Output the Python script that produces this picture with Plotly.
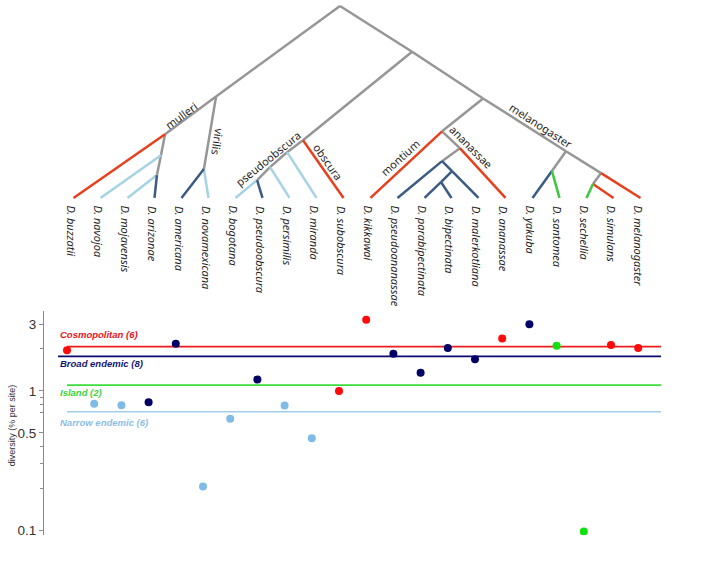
import plotly.graph_objects as go

# ---------------- data ----------------
species = ["D. buzzatii", "D. navojoa", "D. mojavensis", "D. arizonae", "D. americana",
           "D. novamexicana", "D. bogotana", "D. pseudoobscura", "D. persimilis", "D. miranda",
           "D. subobscura", "D. kikkawai", "D. pseudoananassae", "D. parabipectinata",
           "D. bipectinata", "D. malerkotliana", "D. ananassae", "D. yakuba", "D. santomea",
           "D. sechellia", "D. simulans", "D. melanogaster"]
group = ["Cosmopolitan", "Narrow endemic", "Narrow endemic", "Broad endemic", "Broad endemic",
         "Narrow endemic", "Narrow endemic", "Broad endemic", "Narrow endemic", "Narrow endemic",
         "Cosmopolitan", "Cosmopolitan", "Broad endemic", "Broad endemic", "Broad endemic",
         "Broad endemic", "Cosmopolitan", "Broad endemic", "Island", "Island",
         "Cosmopolitan", "Cosmopolitan"]
diversity = [1.96, 0.81, 0.79, 0.83, 2.18, 0.206, 0.63, 1.21, 0.785, 0.457, 1.0,
             3.25, 1.85, 1.35, 2.03, 1.69, 2.38, 3.01, 2.11, 0.098, 2.14, 2.03]

group_names = ["Cosmopolitan", "Broad endemic", "Island", "Narrow endemic"]
group_counts = [6, 8, 2, 6]
group_level = [2.08, 1.77, 1.10, 0.708]

# tree: internal nodes (x in leaf-index units, height above tips)
int_names = ["root", "dros", "mull", "navpt", "moja", "viri", "soph", "obsc", "mirpt", "perpt",
             "pseb", "melmon", "mont", "anan", "ansub", "bipg", "pbip", "melg", "yasa",
             "melsub", "sise"]
int_x = [9.87, 5.28, 3.39, 3.24, 3.09, 4.83, 12.54, 8.50, 7.91, 7.28,
         6.80, 15.17, 13.65, 14.31, 13.65, 14.02, 13.61, 18.24, 17.72,
         19.54, 19.24]
int_h = [19.3, 10.2, 6.4, 4.3, 2.3, 2.9, 14.7, 5.8, 4.6, 3.1,
         1.8, 10.0, 6.7, 5.0, 3.7, 2.7, 1.6, 4.7, 2.7,
         2.5, 1.4]

edge_parent = ["root", "dros", "mull", "mull", "navpt", "navpt", "moja", "moja", "dros", "viri",
               "viri", "root", "soph", "obsc", "obsc", "mirpt", "mirpt", "perpt", "perpt", "pseb",
               "pseb", "soph", "melmon", "mont", "mont", "anan", "anan", "ansub", "ansub", "bipg",
               "bipg", "pbip", "pbip", "melmon", "melg", "yasa", "yasa", "melg", "melsub", "melsub",
               "sise", "sise"]
edge_child = ["dros", "mull", "D. buzzatii", "navpt", "D. navojoa", "moja", "D. mojavensis",
              "D. arizonae", "viri", "D. americana", "D. novamexicana", "soph", "obsc",
              "D. subobscura", "mirpt", "D. miranda", "perpt", "D. persimilis", "pseb",
              "D. bogotana", "D. pseudoobscura", "melmon", "mont", "D. kikkawai", "anan",
              "D. ananassae", "ansub", "D. pseudoananassae", "bipg", "D. malerkotliana", "pbip",
              "D. parabipectinata", "D. bipectinata", "melg", "yasa", "D. yakuba", "D. santomea",
              "melsub", "D. melanogaster", "sise", "D. sechellia", "D. simulans"]
edge_kind = ["g", "g", "r", "g", "l", "g", "l", "d", "g", "d",
             "l", "g", "g", "r", "g", "l", "g", "l", "g", "l",
             "d", "g", "g", "r", "g", "r", "g", "d", "d", "d",
             "d", "d", "d", "g", "g", "d", "n", "g", "r", "g",
             "n", "r"]

clade_names = ["mulleri", "virilis", "pseudoobscura", "obscura", "montium", "ananassae", "melanogaster"]

# ---------------- styles ----------------
W, H = 705, 565
marker_col = {"Cosmopolitan": "#FF0A0A", "Broad endemic": "#000066",
              "Island": "#11E011", "Narrow endemic": "#80BBE8"}
line_col = {"Cosmopolitan": "#EE1C1C", "Broad endemic": "#0A0A6E",
            "Island": "#3ADD3A", "Narrow endemic": "#A2CDE6"}
label_col = {"Cosmopolitan": "#E8141C", "Broad endemic": "#141470",
             "Island": "#3CD23C", "Narrow endemic": "#8CBEE6"}
tree_col = {"g": "#969696", "r": "#E6401E", "d": "#3B5B82", "l": "#A6D3E3", "n": "#3CC83C"}

fig = go.Figure()

# ---------------- tree ----------------
pos = {s: (i, 0.0) for i, s in enumerate(species)}
for nm, x, h in zip(int_names, int_x, int_h):
    pos[nm] = (x, h)

for kind in ["g", "l", "d", "r", "n"]:
    xs, ys = [], []
    for p, c, k in zip(edge_parent, edge_child, edge_kind):
        if k != kind:
            continue
        xs += [pos[p][0], pos[c][0], None]
        ys += [pos[p][1], pos[c][1], None]
    fig.add_trace(go.Scatter(x=xs, y=ys, mode="lines", xaxis="x2", yaxis="y2",
                             line=dict(color=tree_col[kind], width=2.5),
                             hoverinfo="skip", showlegend=False))

# tip labels
for i, s in enumerate(species):
    fig.add_annotation(x=i, y=-0.55, xref="x2", yref="y2", text="<i>" + s + "</i>",
                       textangle=90, showarrow=False, xanchor="center", yanchor="top",
                       xshift=-2, font=dict(family="Noto Sans", size=11, color="#1e1e1e"))


def tu(px):
    return (px - 73.5) / 27.0


def th(py):
    return (199 - py) / 10.0


# clade labels (placed along their branches)
clade_pos = [(181, 116, -36), (218, 142, 99), (268, 159, -39), (328, 162, 55),
             (400, 158, -42), (471, 147, 45), (541, 126, 33)]
for name, (px, py, ang) in zip(clade_names, clade_pos):
    fig.add_annotation(x=tu(px), y=th(py), xref="x2", yref="y2", text=name, textangle=ang,
                       showarrow=False, xanchor="center", yanchor="middle",
                       font=dict(family="Noto Sans", size=11, color="#1e1e1e"))

# ---------------- scatter ----------------
n = len(species)
line_start = {"Cosmopolitan": 0, "Broad endemic": -0.33, "Island": 0, "Narrow endemic": 0}
for g, lev in zip(group_names, group_level):
    fig.add_trace(go.Scatter(x=[line_start[g], n - 1 + 0.84], y=[lev, lev], mode="lines",
                             line=dict(color=line_col[g], width=1.6),
                             hoverinfo="skip", showlegend=False))

for g in group_names:
    xs = [i for i in range(n) if group[i] == g]
    ys = [diversity[i] for i in range(n) if group[i] == g]
    fig.add_trace(go.Scatter(x=xs, y=ys, mode="markers",
                             marker=dict(color=marker_col[g], size=8),
                             showlegend=False, name=g))

label_y = {"Cosmopolitan": 336, "Broad endemic": 365, "Island": 395, "Narrow endemic": 425}
for g, c in zip(group_names, group_counts):
    fig.add_annotation(x=58 / W, y=1 - label_y[g] / H, xref="paper", yref="paper",
                       text="<b><i>%s (%d)</i></b>" % (g, c), showarrow=False,
                       xanchor="left", yanchor="middle",
                       font=dict(family="Liberation Sans, Arial", size=9.5, color=label_col[g]))

fig.add_annotation(x=11.5 / W, y=1 - 428 / H, xref="paper", yref="paper",
                   text="diversity (% per site)", textangle=-90, showarrow=False,
                   xanchor="center", yanchor="middle",
                   font=dict(family="Liberation Sans, Arial", size=9, color="#333333"))

# ---------------- axes ----------------
x0_px, step = 67.0, 27.2
fig.update_layout(
    width=W, height=H,
    margin=dict(l=0, r=0, t=0, b=0),
    paper_bgcolor="white", plot_bgcolor="rgba(0,0,0,0)",
    xaxis=dict(domain=[44 / W, 1], range=[(44 - x0_px) / step, (W - x0_px) / step],
               visible=False, fixedrange=True),
    yaxis=dict(type="log", domain=[(H - 538) / H, (H - 313) / H],
               range=[-1.0357, 0.5714], showline=True, linecolor="#8a8a8a", linewidth=1,
               ticks="outside", ticklen=4, tickcolor="#8a8a8a",
               tickvals=[0.1, 0.5, 1, 3], ticktext=["0.1", "0.5", "1", "3"],
               tickfont=dict(family="Liberation Sans, Arial", size=13.5, color="#333333"),
               minor=dict(tickvals=[0.2, 0.3, 0.4, 0.7, 0.8, 0.9, 2], ticks="outside",
                          ticklen=3, tickcolor="#8a8a8a", showgrid=False),
               showgrid=False, zeroline=False, fixedrange=True),
    xaxis2=dict(domain=[0, 1], range=[tu(0), tu(W)], visible=False, anchor="y2",
                fixedrange=True),
    yaxis2=dict(domain=[0, 1], range=[th(H), th(0)], visible=False, anchor="x2",
                fixedrange=True),
)

fig.write_html("out.html", config={"displayModeBar": False},
               post_script="document.body.style.margin='0px';document.body.style.overflow='hidden';")
